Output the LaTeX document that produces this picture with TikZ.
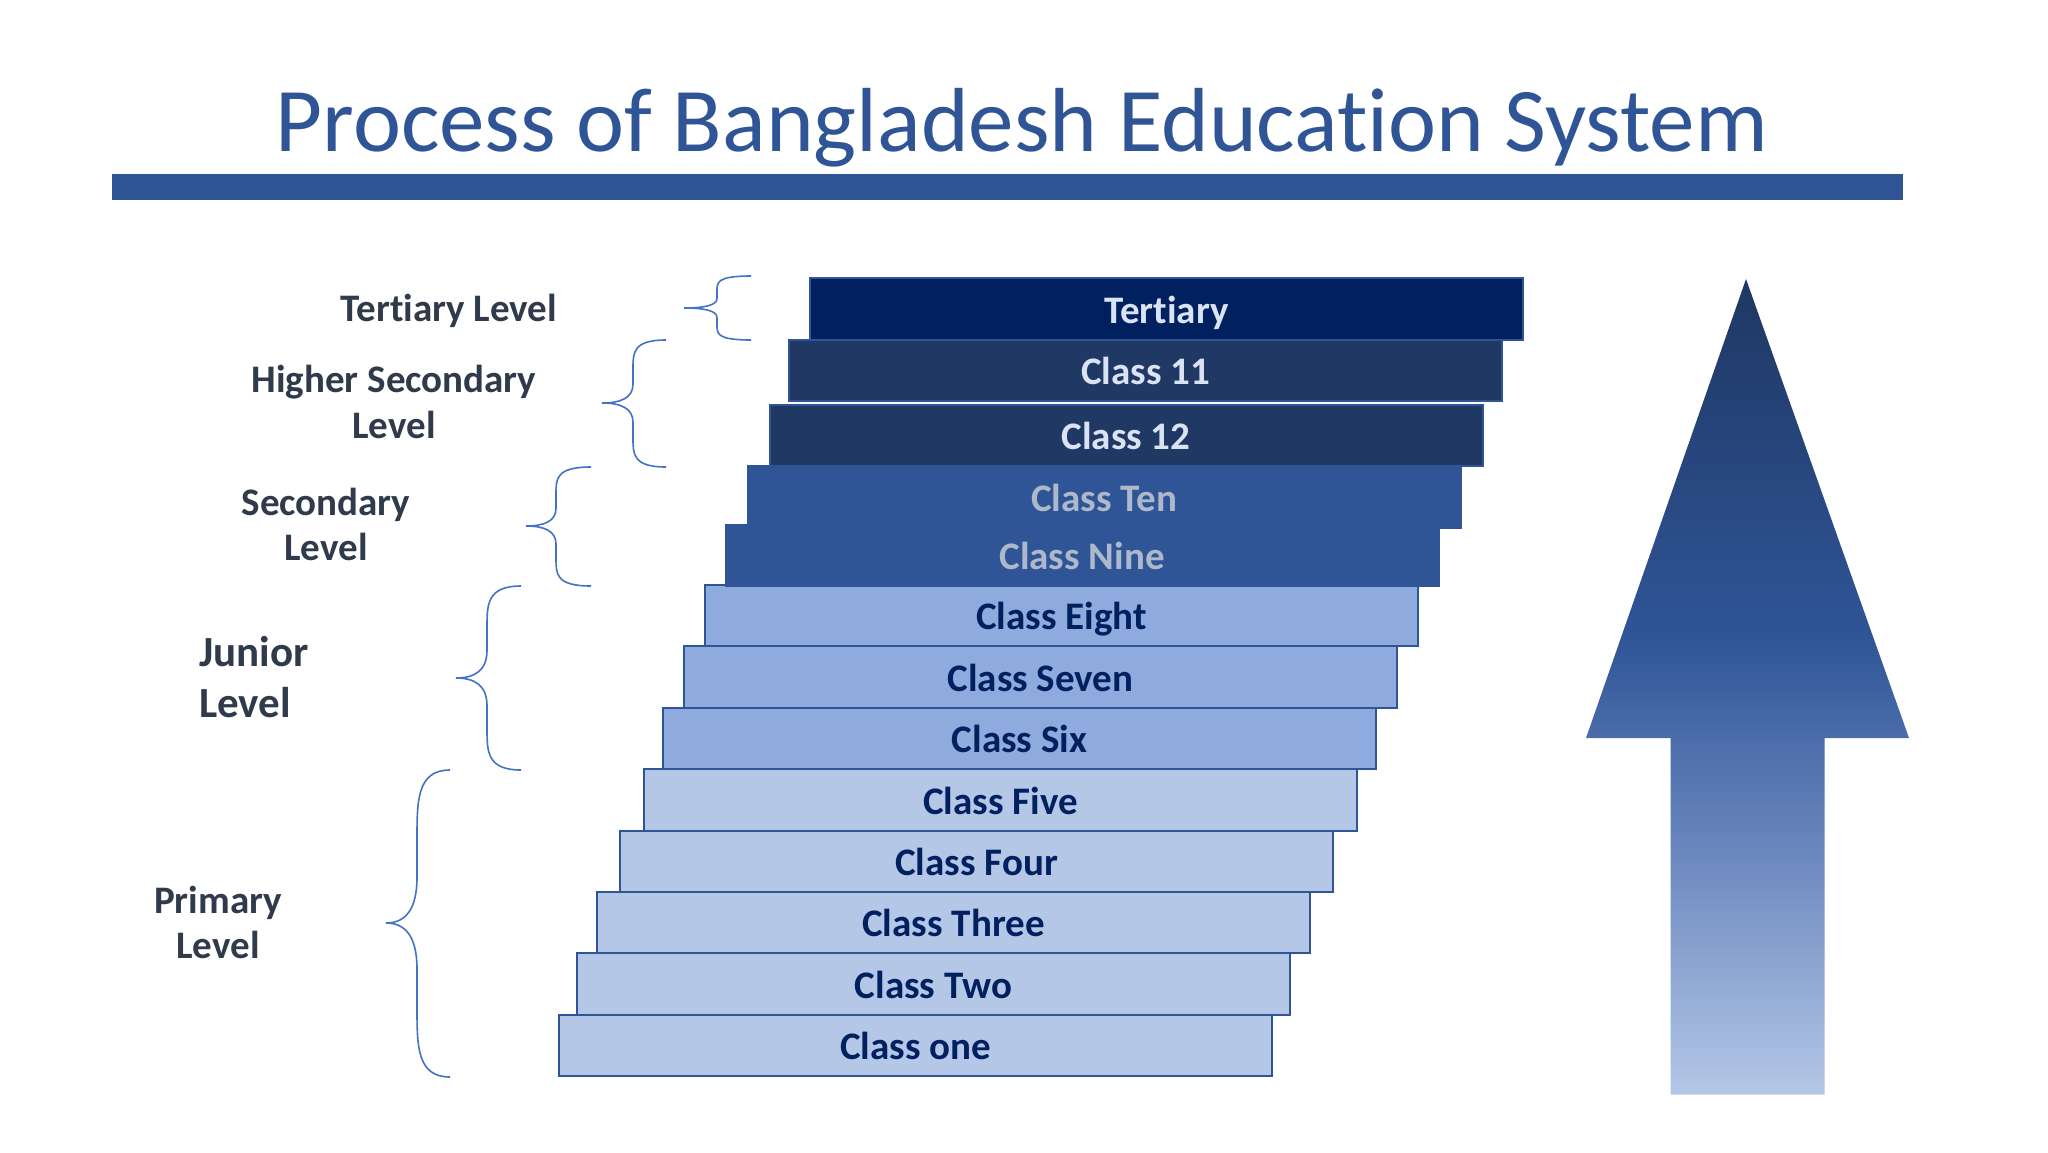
\documentclass[tikz,border=0pt]{standalone}
\usepackage{fontspec}
\setmainfont{Carlito}[Ligatures=NoCommon]
\definecolor{titleblue}{HTML}{2F5597}
\definecolor{navy}{HTML}{002060}
\definecolor{darkblue}{HTML}{203864}
\definecolor{midblue}{HTML}{2F5597}
\definecolor{lightblue}{HTML}{8FAADC}
\definecolor{paleblue}{HTML}{B4C7E7}
\definecolor{boxline}{HTML}{2F5597}
\definecolor{paletext}{HTML}{DAE3F3}
\definecolor{greytext}{HTML}{ADB9CA}
\definecolor{labeltext}{HTML}{2F3A4B}
\definecolor{bracecol}{HTML}{4472C4}
\definecolor{arrT}{HTML}{1F3763}
\definecolor{arrM}{HTML}{2F5597}
\definecolor{arrL}{HTML}{B4C7E7}
\definecolor{arrQ}{HTML}{6A87BE}
\pgfdeclareverticalshading{upshade}{100bp}{color(0bp)=(arrL); color(25bp)=(arrL); color(40bp)=(arrQ); color(53bp)=(arrM); color(75bp)=(arrT); color(100bp)=(arrT)}
\newcommand\levelbrace[6]{%
  \draw[bracestyle] (#3,#4) .. controls (#2,#4) and (#2,{#4+0.2*(#5-#4)}) .. (#2,{#4+0.45*(#5-#4)})
    -- (#2,{#5-0.3*(#5-#4)}) .. controls (#2,{#5-0.08*(#5-#4)}) and ({#2-0.4*(#2-#1)},#5) .. (#1,#5)
    .. controls ({#2-0.4*(#2-#1)},#5) and (#2,{#5+0.08*(#6-#5)}) .. (#2,{#5+0.3*(#6-#5)})
    -- (#2,{#6-0.45*(#6-#5)}) .. controls (#2,{#6-0.2*(#6-#5)}) and (#2,#6) .. (#3,#6);}
\tikzset{
  stepbox/.style={draw=boxline, line width=2pt, minimum width=713pt, minimum height=61.5pt,
    inner sep=0pt, text height=28pt, text depth=0pt, font=\fontsize{39}{46}\selectfont\bfseries},
  lvl/.style={text=labeltext, font=\fontsize{39}{46}\selectfont\bfseries, inner sep=0pt, anchor=base},
  bracestyle/.style={draw=bracecol, line width=1.6pt}
}
\begin{document}
\begin{tikzpicture}[x=1pt,y=-1pt]
\useasboundingbox (0,0) rectangle (2048,1152);
\fill[white] (0,0) rectangle (2048,1152);
% title
\node[text=titleblue, font=\fontsize{91}{100}\selectfont, inner sep=0pt, anchor=base] (title) at (1022,151) {Process of Bangladesh Education System};
\fill[titleblue] (112,174) rectangle (1903,200);
% steps (bottom first)
\node[stepbox, fill=paleblue, text=navy] (c1) at (915.5,1045.5) {Class one};
\node[stepbox, fill=paleblue, text=navy] (c2) at (933.5,984) {Class Two};
\node[stepbox, fill=paleblue, text=navy] (c3) at (953.5,922.5) {Class Three};
\node[stepbox, fill=paleblue, text=navy] (c4) at (976.5,861.5) {Class Four};
\node[stepbox, fill=paleblue, text=navy] (c5) at (1000.5,800) {Class Five};
\node[stepbox, fill=lightblue, text=navy] (c6) at (1019.5,738.5) {Class Six};
\node[stepbox, fill=lightblue, text=navy] (c7) at (1040.5,677) {Class Seven};
\node[stepbox, fill=lightblue, text=navy] (c8) at (1061.5,615.5) {Class Eight};
\node[stepbox, draw=midblue, fill=midblue, text=greytext] (c9) at (1082,555.5) {Class Nine};
\node[stepbox, draw=midblue, fill=midblue, text=greytext] (c10) at (1104,497) {Class Ten};
\node[stepbox, fill=darkblue, text=paletext] (c12) at (1126,435.5) {Class 12};
\node[stepbox, fill=darkblue, text=paletext] (c11) at (1145.5,370.5) {Class 11};
\node[stepbox, fill=navy, text=paletext] (ter) at (1166.5,309) {Tertiary};
% level labels
\node[lvl] (lter) at (449,321) {Tertiary Level};
\node[lvl] (lhs1) at (394,392) {Higher Secondary};
\node[lvl] (lhs2) at (394,438) {Level};
\node[lvl] (lsec1) at (326,515) {Secondary};
\node[lvl] (lsec2) at (326,560) {Level};
\node[lvl, anchor=base west, font=\fontsize{43}{51}\selectfont\bfseries] (ljun1) at (199,666) {Junior};
\node[lvl, anchor=base west, font=\fontsize{43}{51}\selectfont\bfseries] (ljun2) at (199,717) {Level};
\node[lvl] (lpri1) at (218,913) {Primary};
\node[lvl] (lpri2) at (218,958) {Level};
% braces
\levelbrace{684}{717}{751}{276}{308}{340}
\levelbrace{602}{633}{666}{340}{403}{467}
\levelbrace{526}{556}{591}{467}{526}{586}
\levelbrace{456}{487}{521}{586}{678}{770}
\levelbrace{386}{417}{450}{770}{923}{1077}
% arrow
\shade[shading=upshade] (1746,279) -- (1909,738) -- (1824.5,738) -- (1824.5,1094.5)
  -- (1670.5,1094.5) -- (1670.5,738) -- (1586,738) -- cycle;
\end{tikzpicture}
\end{document}
